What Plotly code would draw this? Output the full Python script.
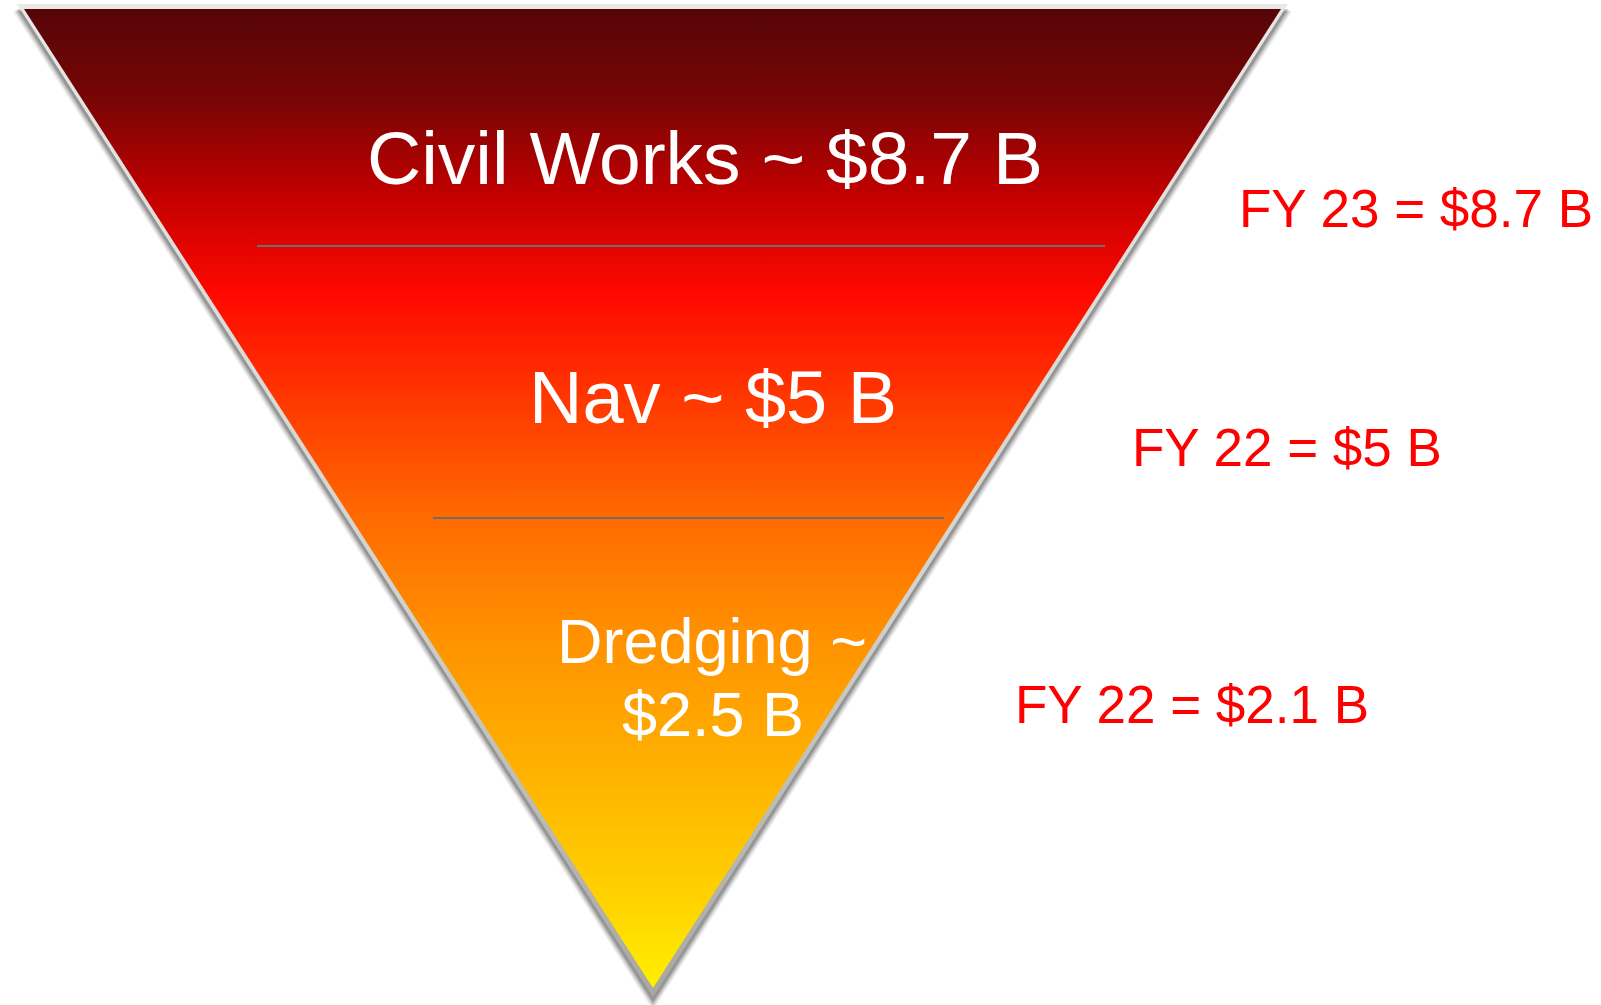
import plotly.graph_objects as go

# ---- data ----
segments = ["Civil Works", "Nav", "Dredging"]
segment_values = [8.7, 5, 2.5]
fy_labels = ["FY 23", "FY 22", "FY 22"]
fy_values = [8.7, 5, 2.1]

W, H = 1601, 1005
FONT = "Liberation Sans, Arial, Helvetica, sans-serif"

# ---- geometry (pixel-like coordinates, y grows downward) ----
outer = dict(l=(17, 4), r=(1288, 4), a=(653, 997))
inner = dict(l=(24, 9), r=(1281, 9), a=(653, 988))


def tri(t, dx=0.0, dy=0.0, e=0.0):
    xs = [t["l"][0] - e + dx, t["r"][0] + e + dx, t["a"][0] + dx, t["l"][0] - e + dx]
    ys = [t["l"][1] - e * 0.3 + dy, t["r"][1] - e * 0.3 + dy, t["a"][1] + e * 1.2 + dy, t["l"][1] - e * 0.3 + dy]
    return xs, ys


fig = go.Figure()

# soft drop shadow (downward)
for d, e, op in [(9, 4, 0.05), (8, 3, 0.07), (7, 2, 0.09), (6, 1, 0.12), (5, 0, 0.16)]:
    xs, ys = tri(outer, 0, d, e)
    fig.add_trace(go.Scatter(x=xs, y=ys, mode="lines", fill="toself",
                             fillcolor=f"rgba(0,0,0,{op})", line=dict(width=0),
                             hoverinfo="skip", showlegend=False))

# light gray border triangle
xs, ys = tri(outer)
fig.add_trace(go.Scatter(
    x=xs, y=ys, mode="lines", fill="toself", line=dict(width=0),
    fillgradient=dict(type="vertical", start=4, stop=997,
                      colorscale=[[0, "#e8e8e6"], [0.6, "#d2d2ce"], [1, "#a8a8a0"]]),
    hoverinfo="skip", showlegend=False))

# gradient-filled inner triangle
xs, ys = tri(inner)
fig.add_trace(go.Scatter(
    x=xs, y=ys, mode="lines", fill="toself", line=dict(width=0),
    fillgradient=dict(type="vertical", start=9, stop=988,
                      colorscale=[[0.0, "#560507"], [0.09, "#760505"],
                                  [0.19, "#c20000"], [0.29, "#ff0800"],
                                  [0.40, "#ff3800"], [0.52, "#ff6a00"],
                                  [0.645, "#ff9200"], [0.78, "#ffb200"],
                                  [0.91, "#ffd200"], [1.0, "#fff000"]]),
    hoverinfo="skip", showlegend=False))

# divider lines
for x0, x1, y in [(257, 1105, 246), (433, 944, 518)]:
    fig.add_shape(type="line", x0=x0, x1=x1, y0=y, y1=y, xref="x", yref="y",
                  line=dict(color="#6e6e6e", width=2))

# segment labels (white)
seg_text = [f"{s} ~ ${v:g} B" for s, v in zip(segments, segment_values)]
fig.add_annotation(x=705, y=158, text=seg_text[0], showarrow=False,
                   font=dict(family=FONT, size=75, color="white"),
                   xanchor="center", yanchor="middle")
fig.add_annotation(x=713, y=397, text=seg_text[1], showarrow=False,
                   font=dict(family=FONT, size=74, color="white"),
                   xanchor="center", yanchor="middle")
d_first, d_second = seg_text[2].split(" $")
fig.add_annotation(x=712, y=641, text=d_first, showarrow=False,
                   font=dict(family=FONT, size=63, color="white"),
                   xanchor="center", yanchor="middle")
fig.add_annotation(x=713, y=714, text="$" + d_second, showarrow=False,
                   font=dict(family=FONT, size=63, color="white"),
                   xanchor="center", yanchor="middle")

# fiscal-year labels (red)
fy_text = [f"{l} = ${v:g} B" for l, v in zip(fy_labels, fy_values)]
for (x, y), t in zip([(1416, 208), (1287, 447), (1192, 704)], fy_text):
    fig.add_annotation(x=x, y=y, text=t, showarrow=False,
                       font=dict(family=FONT, size=53, color="#ff0000"),
                       xanchor="center", yanchor="middle")

fig.update_layout(
    width=W, height=H, margin=dict(l=0, r=0, t=0, b=0),
    paper_bgcolor="white", plot_bgcolor="white",
    xaxis=dict(range=[0, W], visible=False, fixedrange=True),
    yaxis=dict(range=[H, 0], visible=False, fixedrange=True),
    showlegend=False,
)

fig.write_html("out.html", config={"displayModeBar": False},
               post_script="document.body.style.margin='0';document.body.style.overflow='hidden';")
